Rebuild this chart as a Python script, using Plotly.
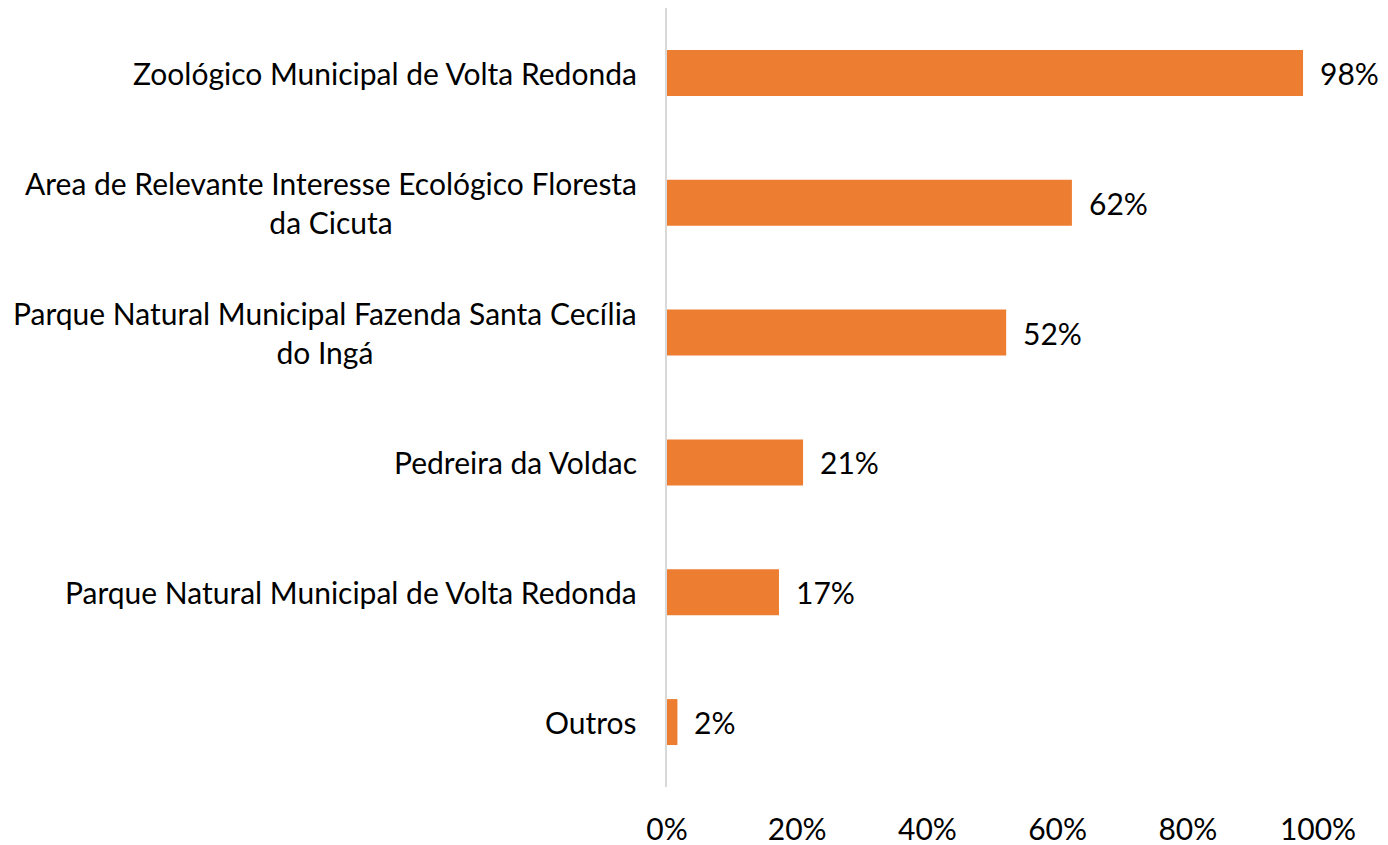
import plotly.graph_objects as go

categories = [
    "Zoológico Municipal de Volta Redonda",
    "Area de Relevante Interesse Ecológico Floresta<br>da Cicuta",
    "Parque Natural Municipal Fazenda Santa Cecília<br>do Ingá",
    "Pedreira da Voldac",
    "Parque Natural Municipal de Volta Redonda",
    "Outros",
]
values = [97.7, 62.2, 52.1, 20.9, 17.2, 1.6]
tick_vals = [0, 20, 40, 60, 80, 100]
tick_text = ["0%", "20%", "40%", "60%", "80%", "100%"]

FONT = "Lato"
FS = 30
BAR_COLOR = "#ED7D31"

fig = go.Figure(go.Bar(
    x=values, y=categories, orientation="h",
    marker=dict(color=BAR_COLOR, line=dict(width=0)),
    width=0.354, hoverinfo="skip",
))

annotations = []
for c, v in zip(categories, values):
    annotations.append(dict(
        x=0, xref="paper", y=c, yref="y", text=c, showarrow=False,
        xanchor="right", yanchor="middle", align="center", xshift=-28,
        font=dict(family=FONT, size=FS, color="#000000"),
    ))
    annotations.append(dict(
        x=v, xref="x", y=c, yref="y", text=f"{round(v)}%", showarrow=False,
        xanchor="left", yanchor="middle", xshift=15,
        font=dict(family=FONT, size=FS, color="#000000"),
    ))

fig.update_layout(
    width=1388, height=845,
    margin=dict(l=659, r=78, t=0, b=66),
    paper_bgcolor="white", plot_bgcolor="white",
    showlegend=False,
    font=dict(family=FONT, size=FS, color="#000000"),
    xaxis=dict(range=[0, 100], tickvals=tick_vals, ticktext=tick_text,
               showgrid=False, zeroline=False, showline=False, ticks="",
               ticklabelstandoff=22, fixedrange=True,
               tickfont=dict(family=FONT, size=FS, color="#000000")),
    yaxis=dict(autorange="reversed", showticklabels=False, showgrid=False,
               zeroline=False, showline=True, linecolor="#D9D9D9", linewidth=2,
               ticks="", fixedrange=True),
    annotations=annotations,
)

fig.write_html("out.html")
